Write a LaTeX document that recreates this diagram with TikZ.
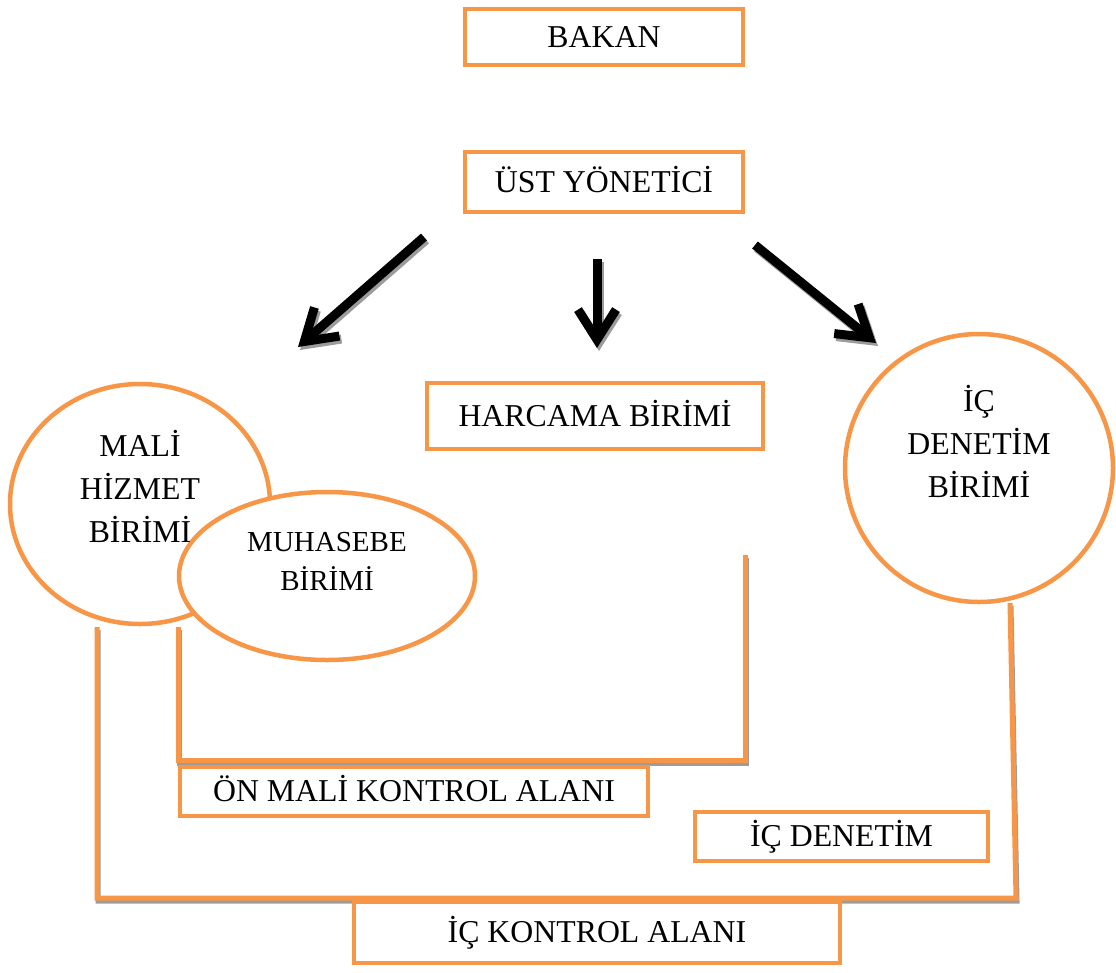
\documentclass[tikz,border=0pt]{standalone}
\usepackage{fontspec}
\setmainfont{Liberation Serif}
\usetikzlibrary{shapes.geometric,arrows.meta}
\definecolor{org}{HTML}{F79646}
\definecolor{shd}{HTML}{9C9C9C}
\begin{document}
\begin{tikzpicture}[x=1pt,y=-1pt,
  txt/.style={font=\fontsize{31.8}{43}\selectfont, align=center, inner sep=0pt},
  smalltxt/.style={font=\fontsize{29}{39}\selectfont, align=center, inner sep=0pt},
  box/.style={draw=org, line width=4.5pt, fill=white, rectangle, inner sep=0pt,
    text height=20.8pt, text depth=0pt, font=\fontsize{31.8}{38}\selectfont},
  blob/.style={draw=org, line width=4.5pt, ellipse, inner sep=0pt},
  oline/.style={draw=org, line width=5pt, line join=miter},
  sline/.style={draw=shd, line width=5pt, line join=miter,
    transform canvas={xshift=1pt,yshift=-3pt}},
  arr/.style={draw=black, line width=9pt, -{Straight Barb[length=30pt,width=38pt]}},
  sarr/.style={draw=shd, line width=9pt, -{Straight Barb[length=30pt,width=38pt]},
    transform canvas={xshift=2pt,yshift=-3pt}},
]
\useasboundingbox (0,0) rectangle (1116,972);

% coordinates for free connector ends
\coordinate (a1s) at (424,237); \coordinate (a1e) at (298,347);
\coordinate (a2s) at (597,259); \coordinate (a2e) at (597,348);
\coordinate (a3s) at (755,245); \coordinate (a3e) at (876,343);
\coordinate (p1) at (178,627); \coordinate (p2) at (178,760);
\coordinate (p3) at (745,760); \coordinate (p4) at (745,555);
\coordinate (q1) at (97,627); \coordinate (q2) at (97,898);
\coordinate (q3) at (1016,898); \coordinate (q4) at (1010,603);

% bracket lines with shadow
\draw[sline] (p1) -- (p2) -- (p3) -- (p4);
\draw[sline] (q1) -- (q2) -- (q3) -- (q4);
\draw[oline] (p1) -- (p2) -- (p3) -- (p4);
\draw[oline] (q1) -- (q2) -- (q3) -- (q4);

% arrows with shadow
\draw[sarr] (a1s) -- (a1e);
\draw[sarr] (a2s) -- (a2e);
\draw[sarr] (a3s) -- (a3e);
\draw[arr] (a1s) -- (a1e);
\draw[arr] (a2s) -- (a2e);
\draw[arr] (a3s) -- (a3e);

% boxes
\node[box, minimum width=278pt, minimum height=56pt] (bakan) at (604,37) {BAKAN};
\node[box, minimum width=278pt, minimum height=60pt] (ust) at (604,182) {ÜST YÖNETİCİ};
\node[box, minimum width=336pt, minimum height=66pt] (harcama) at (595,416) {HARCAMA BİRİMİ};
\node[box, minimum width=468pt, minimum height=49pt] (onmali) at (414,791.5) {ÖN MALİ KONTROL ALANI};
\node[box, minimum width=293pt, minimum height=49pt] (icden) at (841.5,836.5) {İÇ DENETİM};
\node[box, minimum width=486pt, minimum height=61pt] (ickon) at (597,932.5) {İÇ KONTROL ALANI};

% ellipses / circles
\node[blob, fill=white, minimum width=260pt, minimum height=240pt] (mali) at (140,504) {};
\node[blob, fill=white, minimum width=296pt, minimum height=168pt] (muh) at (327,576) {};
\node[blob, fill=white, minimum width=268pt, minimum height=268pt] (icb) at (979,468) {};

% texts
\node[txt] (tmali) at (140,486) {MALİ\\HİZMET\\BİRİMİ};
\node[smalltxt] (tmuh) at (327,561) {MUHASEBE\\BİRİMİ};
\node[txt] (ticb) at (979,441) {İÇ\\DENETİM\\BİRİMİ};
\end{tikzpicture}
\end{document}
